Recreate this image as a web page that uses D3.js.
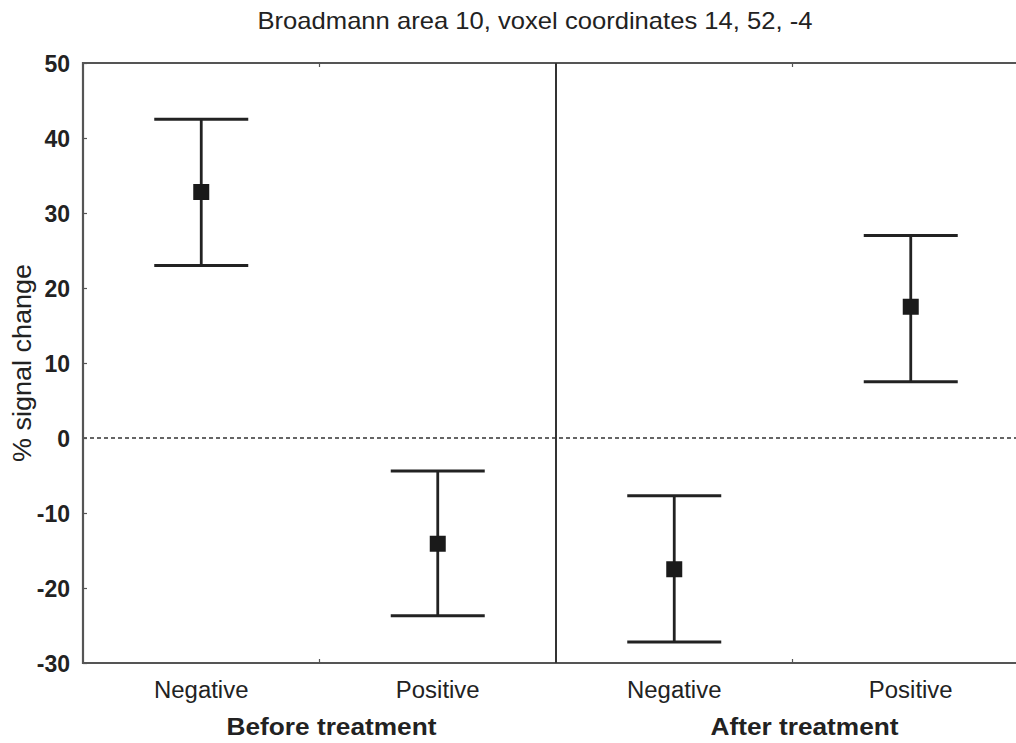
<!DOCTYPE html>
<html><head><meta charset="utf-8">
<script src="https://cdn.jsdelivr.net/npm/d3@7"></script>
<style>
html,body{margin:0;padding:0;background:#fff;}
svg{display:block;font-family:"Liberation Sans",Arial,sans-serif;}
</style></head>
<body>
<svg id="chart" width="1016" height="743"></svg>
<script>
// ---- data ----
const groups = ["Before treatment", "After treatment"];
const categories = ["Negative", "Positive"];
const means = [32.8, -14.1, -17.5, 17.5];
const upper = [42.5, -4.4, -7.7, 27.0];
const lower = [23.0, -23.7, -27.2, 7.5];
const yTicks = [50, 40, 30, 20, 10, 0, -10, -20, -30];
const title = "Broadmann area 10, voxel coordinates 14, 52, -4";
const yLabel = "% signal change";

const svg = d3.select("#chart");
const m = {left: 83, top: 63, bottom: 663};
const plotRight = 1029;

const y = d3.scaleLinear().domain([-30, 50]).range([m.bottom, m.top]);
const xg = d3.scaleBand().domain(groups).range([m.left, plotRight]).padding(0);
const xc = d3.scaleBand().domain(categories).range([0, xg.bandwidth()]).padding(0);

const pts = [];
groups.forEach((g, gi) => categories.forEach((c, ci) => {
  const i = gi * 2 + ci;
  pts.push({g, c, mean: means[i], hi: upper[i], lo: lower[i],
    x: xg(g) + xc(c) + xc.bandwidth() / 2});
}));

function stretch(sel, f) {
  sel.each(function () {
    const w = this.getComputedTextLength();
    d3.select(this).attr("textLength", w * f).attr("lengthAdjust", "spacingAndGlyphs");
  });
}

// title
svg.append("text").attr("x", 535).attr("y", 29).attr("text-anchor", "middle")
  .attr("font-size", 24).attr("fill", "#222").attr("textLength", 555)
  .attr("lengthAdjust", "spacingAndGlyphs").text(title);

// zero dashed line
svg.append("line").attr("x1", m.left).attr("x2", plotRight)
  .attr("y1", y(0)).attr("y2", y(0))
  .attr("stroke", "#333").attr("stroke-width", 1.5).attr("stroke-dasharray", "4,3");

// y axis
const yAxis = d3.axisLeft(y).tickValues(yTicks).tickSize(-4).tickPadding(13).tickFormat(d => String(d));
const ya = svg.append("g").attr("transform", `translate(${m.left},0)`).call(yAxis);
ya.select(".domain").remove();
ya.selectAll(".tick line").attr("stroke", "#555").attr("stroke-width", 1.2);
ya.selectAll(".tick text").attr("font-size", 23).attr("fill", "#222")
  .attr("font-family", "Liberation Sans, Arial, sans-serif").attr("font-weight", "bold")
  .attr("dy", "0.36em").attr("x", -13);

// frame
const frame = svg.append("g").attr("stroke", "#555").attr("stroke-width", 2.2).attr("fill", "none");
frame.append("line").attr("x1", m.left).attr("x2", m.left).attr("y1", m.top - 1).attr("y2", m.bottom + 1);
frame.append("line").attr("x1", m.left).attr("x2", plotRight).attr("y1", m.top).attr("y2", m.top);
frame.append("line").attr("x1", m.left).attr("x2", plotRight).attr("y1", m.bottom).attr("y2", m.bottom);
groups.slice(1).forEach(g => {
  frame.append("line").attr("x1", xg(g)).attr("x2", xg(g)).attr("y1", m.top).attr("y2", m.bottom)
    .attr("stroke", "#333").attr("stroke-width", 2);
});
groups.forEach(g => {
  const tx = xg(g) + xc.bandwidth();
  frame.append("line").attr("x1", tx).attr("x2", tx).attr("y1", m.top).attr("y2", m.top + 4).attr("stroke-width", 1.2);
  frame.append("line").attr("x1", tx).attr("x2", tx).attr("y1", m.bottom).attr("y2", m.bottom - 4).attr("stroke-width", 1.2);
});

// error bars
const capHalf = 47;
const eb = svg.append("g").attr("stroke", "#222").attr("stroke-width", 2.8);
pts.forEach(p => {
  eb.append("line").attr("x1", p.x).attr("x2", p.x).attr("y1", y(p.hi)).attr("y2", y(p.lo));
  eb.append("line").attr("x1", p.x - capHalf).attr("x2", p.x + capHalf).attr("y1", y(p.hi)).attr("y2", y(p.hi));
  eb.append("line").attr("x1", p.x - capHalf).attr("x2", p.x + capHalf).attr("y1", y(p.lo)).attr("y2", y(p.lo));
});
svg.append("g").selectAll("rect").data(pts).join("rect")
  .attr("x", d => d.x - 8).attr("y", d => y(d.mean) - 8)
  .attr("width", 16).attr("height", 16).attr("fill", "#1a1a1a");

// category labels
svg.append("g").selectAll("text").data(pts).join("text")
  .attr("x", d => d.x).attr("y", 698).attr("text-anchor", "middle")
  .attr("font-size", 23).attr("fill", "#222").text(d => d.c)
  .call(stretch, 1.04);

// group labels
svg.append("g").selectAll("text").data(groups).join("text")
  .attr("x", d => xg(d) + xg.bandwidth() / 2 + 12).attr("y", 735).attr("text-anchor", "middle")
  .attr("font-size", 23).attr("font-weight", "bold").attr("fill", "#222").text(d => d)
  .call(stretch, 1.14);

// y label
svg.append("text").attr("transform", `translate(31,363) rotate(-90)`)
  .attr("text-anchor", "middle").attr("font-size", 25).attr("fill", "#222").text(yLabel)
  .call(stretch, 1.08);
</script>
</body></html>
